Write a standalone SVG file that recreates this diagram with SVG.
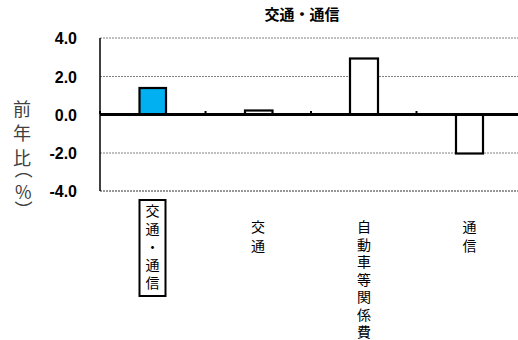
<svg xmlns="http://www.w3.org/2000/svg" width="518" height="340" viewBox="0 0 518 340">
<style>
.grid{stroke:#808080;stroke-width:1;stroke-dasharray:2 1;fill:none}
.bar{stroke:#000;stroke-width:2.2;fill:#fff}
.ylab{font-family:"Liberation Sans",Arial,sans-serif;font-size:16px;font-weight:bold;fill:#000;text-anchor:end}
.cat{font-family:"Noto Sans CJK JP","Noto Sans CJK SC",sans-serif;font-size:14px;fill:#000;writing-mode:vertical-rl;text-orientation:upright;text-anchor:start}
.title{font-family:"Noto Sans CJK JP","Noto Sans CJK SC",sans-serif;font-size:15px;font-weight:bold;fill:#000;text-anchor:middle}
.ytitle{font-family:"Noto Sans CJK JP","Noto Sans CJK SC",sans-serif;font-size:18px;fill:#404040}
</style>
<rect x="0" y="0" width="518" height="340" fill="#fff"/>
<text class="title" x="302" y="20">交通・通信</text>
<g id="grid">
<line class="grid" x1="100" y1="38" x2="518" y2="38"/>
<line class="grid" x1="100" y1="76.5" x2="518" y2="76.5"/>
<line class="grid" x1="100" y1="153" x2="518" y2="153"/>
<line class="grid" x1="100" y1="191" x2="518" y2="191" style="stroke:#303030"/>
<line x1="100" y1="38" x2="100" y2="191" stroke="#000" stroke-width="1.5"/>
</g>
<g id="yaxis-labels">
<text class="ylab" x="77" y="44">4.0</text>
<text class="ylab" x="77" y="82.5">2.0</text>
<text class="ylab" x="77" y="120.5">0.0</text>
<text class="ylab" x="77" y="159">-2.0</text>
<text class="ylab" x="77" y="197">-4.0</text>
</g>
<text id="ytitle" class="ytitle" x="13 13 13 17 15 17" y="115.7 139.7 164.7 160.5 198.5 200.5" rotate="0 0 0 90 0 90">前年比（%）</text>
<g id="bar-kotsu-tsushin"><rect class="bar" x="139.5" y="88" width="26.5" height="26.5" style="fill:#00B0F0"/></g>
<g id="bar-kotsu"><rect class="bar" x="245" y="110.5" width="27.5" height="4"/></g>
<g id="bar-jidosha"><rect class="bar" x="350" y="58.5" width="28" height="56"/></g>
<g id="bar-tsushin"><rect class="bar" x="456" y="114.5" width="27" height="39"/></g>
<g id="axis">
<line x1="100" y1="114.5" x2="518" y2="114.5" stroke="#000" stroke-width="3"/>
<line x1="100" y1="111" x2="100" y2="114" stroke="#000" stroke-width="2"/>
<line x1="205.5" y1="111" x2="205.5" y2="114" stroke="#000" stroke-width="2"/>
<line x1="311" y1="111" x2="311" y2="114" stroke="#000" stroke-width="2"/>
<line x1="416.5" y1="111" x2="416.5" y2="114" stroke="#000" stroke-width="2"/>
</g>
<g id="cat-kotsu-tsushin">
<rect x="139.5" y="200" width="26" height="96" fill="#fff" stroke="#000" stroke-width="2"/>
<text class="cat" x="152.5"><tspan y="204">交</tspan><tspan y="222">通</tspan><tspan y="240">・</tspan><tspan y="258">通</tspan><tspan y="276">信</tspan></text>
</g>
<g id="cat-kotsu"><text class="cat" x="258"><tspan y="220">交</tspan><tspan y="238.5">通</tspan></text></g>
<g id="cat-jidosha"><text class="cat" x="364"><tspan y="220">自</tspan><tspan y="237.5">動</tspan><tspan y="255">車</tspan><tspan y="272.5">等</tspan><tspan y="290">関</tspan><tspan y="307.5">係</tspan><tspan y="325">費</tspan></text></g>
<g id="cat-tsushin"><text class="cat" x="469.5"><tspan y="220">通</tspan><tspan y="238.5">信</tspan></text></g>
</svg>
